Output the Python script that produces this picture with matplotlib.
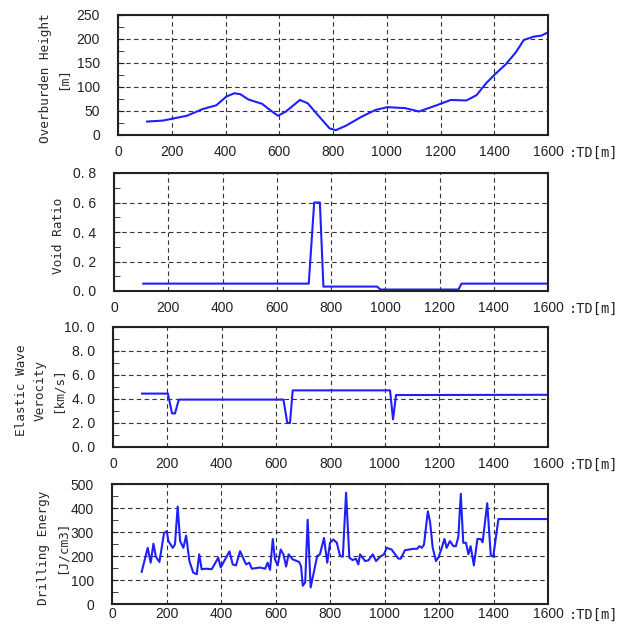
#! /usr/bin/env python3

# Four stacked profiles along the tunnel: overburden, void ratio,
# elastic wave velocity and drilling energy against TD [m].

import matplotlib
matplotlib.use('Agg')
import matplotlib.pyplot as plt
from matplotlib.ticker import FixedLocator, FixedFormatter, MultipleLocator

# Overburden height [m]
td_over = [108, 167, 211, 256, 315, 366, 403, 433, 455, 485, 536, 566, 595,
           625, 677, 706, 743, 787, 810, 847, 906, 957, 1002, 1068, 1120,
           1186, 1238, 1297, 1334, 1370, 1400, 1444, 1480, 1510, 1548, 1575,
           1600]
over_h = [28, 30, 35, 40, 54, 62, 80, 87, 85, 74, 65, 52, 40,
          49, 73, 66, 42, 14, 10, 19, 38, 52, 58, 56, 49,
          62, 73, 72, 83, 108, 125, 148, 172, 198, 205, 207,
          214]

# Void ratio
td_void = [108, 718, 738, 759, 772, 970, 982, 1270, 1281, 1600]
void_r = [0.05, 0.05, 0.60, 0.60, 0.03, 0.03, 0.01, 0.01, 0.05, 0.05]

# Elastic wave velocity [km/s]
td_vel = [107, 202, 217, 228, 242, 627, 641, 651, 661, 1019, 1030, 1041, 1600]
vel = [4.45, 4.45, 2.8, 2.8, 3.95, 3.95, 2.0, 2.0, 4.72, 4.72, 2.3, 4.33, 4.35]

# Drilling energy [J/cm3]
td_de = [109, 131, 142, 152, 161, 174, 191, 201, 207, 223, 231, 241, 250,
         262, 272, 284, 298, 311, 320, 329, 345, 366, 390, 399, 415, 431,
         443, 455, 470, 492, 504, 513, 543, 562, 571, 580, 590, 598, 608,
         619, 629, 639, 648, 663, 687, 694, 700, 709, 718, 729, 745, 753,
         763, 778, 790, 800, 812, 825, 837, 847, 859, 871, 883, 895, 904,
         910, 929, 941, 957, 969, 984, 998, 1008, 1026, 1039, 1051, 1060,
         1075, 1091, 1106, 1120, 1128, 1137, 1145, 1159, 1167, 1177, 1189,
         1199, 1210, 1220, 1228, 1240, 1253, 1262, 1271, 1280, 1289, 1299,
         1308, 1316, 1328, 1341, 1353, 1360, 1377, 1390, 1399, 1418, 1600]
de = [134, 234, 172, 251, 197, 175, 296, 303, 262, 234, 248, 406, 262,
      234, 285, 179, 131, 124, 207, 145, 147, 145, 193, 152, 186, 219,
      165, 161, 220, 165, 172, 147, 152, 147, 172, 142, 271, 186, 161,
      227, 207, 156, 207, 186, 175, 156, 76, 90, 351, 69, 156, 200,
      207, 275, 172, 255, 269, 255, 200, 197, 464, 193, 183, 189, 165,
      207, 179, 182, 207, 179, 197, 207, 234, 227, 207, 189, 189,
      224, 227, 230, 230, 241, 234, 248, 386, 344, 234, 179,
      197, 234, 271, 234, 262, 241, 241, 280, 459, 255, 255,
      207, 241, 161, 271, 271, 257, 420, 202, 197, 354, 354]

x_ticks = [0, 200, 400, 600, 800, 1000, 1200, 1400, 1600]

panels = [
    # x, y, ylabel, yticks, yticklabels, minor step, axes box px, label offset, x pad
    (td_over, over_h, 'Overburden Height\n[m]', [0, 50, 100, 150, 200, 250],
     ['0', '50', '100', '150', '200', '250'], 25, (118, 15, 548, 135), 64, 7),
    (td_void, void_r, 'Void Ratio', [0, 0.2, 0.4, 0.6, 0.8],
     ['0. 0', '0. 2', '0. 4', '0. 6', '0. 8'], 0.1, (114, 173, 548, 291), 56, 7),
    (td_vel, vel, 'Elastic Wave\nVerocity\n[km/s]', [0, 2, 4, 6, 8, 10],
     ['0. 0', '2. 0', '4. 0', '6. 0', '8. 0', '10. 0'], 1, (113, 327, 548, 447), 73, 7),
    (td_de, de, 'Drilling Energy\n[J/cm3]', [0, 100, 200, 300, 400, 500],
     ['0', '100', '200', '300', '400', '500'], 50, (112, 484, 548, 604), 59, 2),
]

W, H = 622, 627
fig = plt.figure(figsize=(W / 100, H / 100), dpi=100)

tick_font = ['Liberation Sans Narrow', 'Liberation Sans', 'DejaVu Sans']
label_font = ['DejaVu Sans Mono']

for xs, ys, ylab, yt, ytl, minor, (l, t, r, b), lab_off, xpad in panels:
    ax = fig.add_axes([l / W, 1 - b / H, (r - l) / W, (b - t) / H])
    ax.plot(xs, ys, color='#1f1fff', lw=1.5)

    ax.set_xlim(0, 1600)
    ax.set_ylim(yt[0], yt[-1])
    ax.xaxis.set_major_locator(FixedLocator(x_ticks))
    ax.yaxis.set_major_locator(FixedLocator(yt))
    ax.yaxis.set_major_formatter(FixedFormatter(ytl))
    ax.yaxis.set_minor_locator(MultipleLocator(minor))

    ax.grid(True, which='major', color='#333333', lw=0.8, linestyle=(0, (4, 3)))
    ax.tick_params(axis='x', which='both', length=0, pad=xpad, labelsize=10,
                   colors='#222222')
    ax.tick_params(axis='y', which='major', direction='in', length=4,
                   pad=13, labelsize=10, colors='#222222')
    ax.tick_params(axis='y', which='minor', direction='in', length=4,
                   color='#222222')
    for lbl in ax.get_xticklabels() + ax.get_yticklabels():
        lbl.set_family(tick_font)

    for sp in ax.spines.values():
        sp.set_linewidth(1.5)
        sp.set_color('#222222')

    ax.text(-lab_off / (r - l), 0.47, ylab, transform=ax.transAxes,
            rotation=90, ha='center', va='center', multialignment='center',
            fontsize=9.2, family=label_font, linespacing=1.5, color='#2a2a2a')

    # axis name sits just after the last tick label
    ax.annotate(':TD[m]', xy=(1, 0), xycoords='axes fraction',
                xytext=(15, -(xpad + 5.5)), textcoords='offset points',
                ha='left', va='center', fontsize=9.8, family=label_font,
                color='#222222')

fig.savefig('out.png', dpi=100)
